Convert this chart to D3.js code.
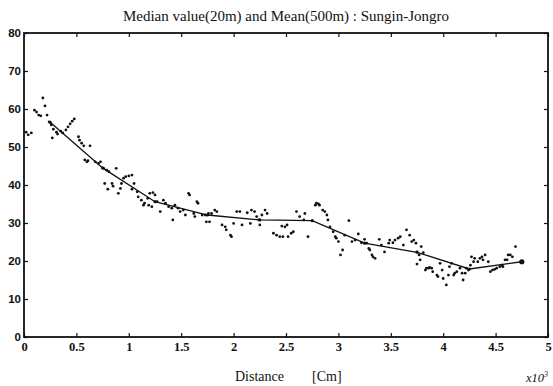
<!DOCTYPE html>
<html>
<head>
<meta charset="utf-8">
<script src="https://cdn.jsdelivr.net/npm/d3@7"></script>
<style>
  body { margin: 0; background: #fff; }
  svg { display: block; }
  .tick text { font-family: "Liberation Sans", Arial, sans-serif; font-weight: bold; font-size: 11.5px; fill: #111; }
  .xaxis .tick text { font-family: "Liberation Serif", "Times New Roman", serif; font-size: 12.5px; }
</style>
</head>
<body>
<svg id="chart" width="553" height="386"></svg>
<script>
// median value every 20 m: [distance (x10^3), value]
const medianPts = [
  [0.02, 53.9], [0.04, 53.2], [0.07, 53.7], [0.10, 59.7], [0.12, 59.2], [0.14, 58.4],
  [0.16, 58.2], [0.18, 62.9], [0.20, 60.8], [0.22, 58.4], [0.24, 56.6], [0.26, 55.8],
  [0.27, 52.4], [0.28, 54.7], [0.31, 53.9], [0.32, 53.4], [0.35, 54.2], [0.37, 53.7],
  [0.40, 54.5], [0.42, 55.3], [0.44, 56.1], [0.46, 56.8], [0.48, 57.4], [0.52, 52.7],
  [0.53, 51.8], [0.55, 51.0], [0.57, 50.3], [0.58, 46.6], [0.60, 46.1], [0.61, 46.4],
  [0.63, 50.3], [0.68, 46.1], [0.71, 45.7], [0.73, 46.1], [0.76, 44.4], [0.77, 40.4],
  [0.79, 43.9], [0.80, 38.9], [0.81, 43.5], [0.84, 40.4], [0.85, 39.7], [0.88, 44.4],
  [0.90, 37.8], [0.92, 39.1], [0.93, 40.4], [0.95, 41.8], [0.97, 42.2], [1.00, 42.4],
  [1.03, 42.6], [1.03, 38.9], [1.05, 40.4], [1.08, 38.2], [1.09, 36.9], [1.12, 36.0],
  [1.14, 34.7], [1.15, 35.2], [1.18, 36.5], [1.19, 34.7], [1.20, 37.8], [1.22, 34.3],
  [1.23, 38.0], [1.25, 37.4], [1.27, 35.6], [1.30, 33.0], [1.33, 36.0], [1.35, 35.2],
  [1.38, 34.3], [1.41, 33.9], [1.42, 30.8], [1.44, 34.7], [1.47, 33.9], [1.49, 33.0],
  [1.52, 33.4], [1.54, 32.1], [1.57, 37.8], [1.58, 37.4], [1.62, 32.5], [1.63, 31.7],
  [1.65, 35.6], [1.66, 35.2], [1.70, 32.1], [1.73, 32.1], [1.74, 30.3], [1.76, 32.5],
  [1.77, 30.3], [1.79, 32.5], [1.82, 33.4], [1.84, 33.0], [1.89, 29.5], [1.92, 29.0],
  [1.93, 28.2], [1.97, 26.8], [1.98, 26.4], [2.00, 29.9], [2.03, 33.0], [2.06, 33.0],
  [2.08, 29.5], [2.13, 32.7], [2.16, 29.9], [2.17, 33.4], [2.20, 33.0], [2.22, 31.7],
  [2.24, 30.8], [2.25, 29.5], [2.27, 32.1], [2.30, 33.4], [2.32, 32.5], [2.38, 27.3],
  [2.41, 26.8], [2.44, 26.4], [2.46, 29.2], [2.47, 26.4], [2.49, 29.0], [2.51, 29.5],
  [2.52, 26.4], [2.55, 27.3], [2.57, 27.7], [2.60, 33.0], [2.63, 31.7], [2.67, 30.8],
  [2.68, 32.5], [2.71, 26.4], [2.78, 34.7], [2.79, 35.2], [2.81, 35.0], [2.82, 34.7],
  [2.85, 33.4], [2.87, 33.0], [2.89, 32.1], [2.90, 30.8], [2.92, 29.0], [2.95, 27.7],
  [2.97, 26.4], [2.98, 26.0], [3.00, 25.1], [3.02, 21.6], [3.04, 22.9], [3.06, 26.8],
  [3.10, 30.6], [3.13, 25.1], [3.16, 25.5], [3.19, 27.1], [3.22, 24.8], [3.25, 25.7],
  [3.27, 24.7], [3.29, 23.3], [3.30, 22.9], [3.32, 21.6], [3.33, 21.1], [3.35, 20.7],
  [3.39, 25.7], [3.41, 24.2], [3.44, 22.4], [3.48, 24.7], [3.49, 25.5], [3.52, 24.8],
  [3.54, 25.5], [3.57, 26.0], [3.59, 26.4], [3.62, 24.2], [3.65, 28.2], [3.68, 26.8],
  [3.70, 25.1], [3.72, 25.5], [3.74, 24.7], [3.75, 22.4], [3.75, 19.2], [3.77, 21.6],
  [3.78, 20.3], [3.79, 23.8], [3.81, 22.2], [3.83, 17.6], [3.84, 18.1], [3.86, 18.1],
  [3.87, 18.3], [3.89, 18.1], [3.90, 17.2], [3.94, 16.3], [3.95, 15.9], [3.97, 19.4],
  [3.99, 17.6], [4.00, 15.4], [4.03, 13.7], [4.05, 16.3], [4.06, 18.5], [4.08, 19.4],
  [4.10, 16.3], [4.11, 16.8], [4.13, 17.2], [4.16, 18.1], [4.18, 16.8], [4.19, 15.0],
  [4.21, 16.8], [4.22, 18.1], [4.24, 17.6], [4.26, 18.9], [4.27, 21.1], [4.29, 19.8],
  [4.30, 20.7], [4.33, 19.8], [4.35, 20.7], [4.37, 21.1], [4.38, 20.3], [4.40, 21.6],
  [4.43, 19.8], [4.45, 17.2], [4.47, 17.6], [4.49, 17.8], [4.51, 18.1], [4.54, 18.5],
  [4.56, 18.9], [4.57, 18.5], [4.59, 20.3], [4.61, 20.3], [4.62, 21.6], [4.64, 21.6],
  [4.66, 21.1], [4.69, 23.8]
];

// mean over 500 m windows
const meanDist = [0.25, 0.75, 1.25, 1.75, 2.25, 2.75, 3.25, 3.75, 4.25, 4.75];
const meanValue = [56.5, 44.5, 35.6, 32.1, 30.8, 30.6, 24.7, 22.3, 17.9, 19.8];

const xTicks = [0, 0.5, 1, 1.5, 2, 2.5, 3, 3.5, 4, 4.5, 5];
const yTicks = [0, 10, 20, 30, 40, 50, 60, 70, 80];

const svg = d3.select('#chart');
const plot = { left: 24, right: 548, top: 33, bottom: 337 };
const serif = '"Liberation Serif", "Times New Roman", serif';

const x = d3.scaleLinear().domain([0, 5]).range([plot.left, plot.right]);
const y = d3.scaleLinear().domain([0, 80]).range([plot.bottom, plot.top]);

// title
svg.append('text')
  .attr('x', 286)
  .attr('y', 21)
  .attr('text-anchor', 'middle')
  .attr('font-family', serif)
  .attr('font-size', 15)
  .attr('fill', '#111')
  .text('Median value(20m) and Mean(500m) : Sungin-Jongro');

// axes, ticks pointing inward
const fmt = d3.format('~g');

svg.append('g')
  .attr('class', 'xaxis')
  .attr('transform', `translate(0,${plot.bottom})`)
  .call(d3.axisBottom(x).tickValues(xTicks).tickSize(-4).tickPadding(5).tickFormat(fmt))
  .call((g) => g.select('.domain').remove());

svg.append('g')
  .attr('transform', `translate(0,${plot.top})`)
  .call(d3.axisTop(x).tickValues(xTicks).tickSize(-4).tickFormat(''))
  .call((g) => g.select('.domain').remove());

svg.append('g')
  .attr('transform', `translate(${plot.left},0)`)
  .call(d3.axisLeft(y).tickValues(yTicks).tickSize(-4).tickPadding(3).tickFormat(fmt))
  .call((g) => g.select('.domain').remove());

svg.append('g')
  .attr('transform', `translate(${plot.right},0)`)
  .call(d3.axisRight(y).tickValues(yTicks).tickSize(-4).tickFormat(''))
  .call((g) => g.select('.domain').remove());

svg.selectAll('.tick line').attr('stroke', '#111').attr('stroke-width', 1.2);

// frame
svg.append('rect')
  .attr('x', plot.left)
  .attr('y', plot.top)
  .attr('width', plot.right - plot.left)
  .attr('height', plot.bottom - plot.top)
  .attr('fill', 'none')
  .attr('stroke', '#111')
  .attr('stroke-width', 1.8);

// median dots
svg.append('g')
  .selectAll('circle')
  .data(medianPts)
  .join('circle')
  .attr('cx', (d) => x(d[0]))
  .attr('cy', (d) => y(d[1]))
  .attr('r', 1.4)
  .attr('fill', '#111');

// mean line
const meanPts = meanDist.map((d, i) => [d, meanValue[i]]);
svg.append('path')
  .datum(meanPts)
  .attr('fill', 'none')
  .attr('stroke', '#111')
  .attr('stroke-width', 1.3)
  .attr('d', d3.line().x((d) => x(d[0])).y((d) => y(d[1])));

svg.append('g')
  .selectAll('circle')
  .data(meanPts)
  .join('circle')
  .attr('cx', (d) => x(d[0]))
  .attr('cy', (d) => y(d[1]))
  .attr('r', (d, i) => (i === meanPts.length - 1 ? 2.6 : 1.6))
  .attr('fill', '#111');

// axis labels
svg.append('text')
  .attr('x', 235)
  .attr('y', 381)
  .attr('font-family', serif)
  .attr('font-size', 14)
  .attr('fill', '#111')
  .text('Distance');

svg.append('text')
  .attr('x', 312)
  .attr('y', 381)
  .attr('font-family', serif)
  .attr('font-size', 14)
  .attr('fill', '#111')
  .text('[Cm]');

const exp = svg.append('text')
  .attr('x', 526)
  .attr('y', 382)
  .attr('font-family', serif)
  .attr('font-style', 'italic')
  .attr('font-size', 12.5)
  .attr('fill', '#111');
exp.append('tspan').text('x10');
exp.append('tspan').attr('dy', -5).attr('font-size', 8).text('3');
</script>
</body>
</html>
